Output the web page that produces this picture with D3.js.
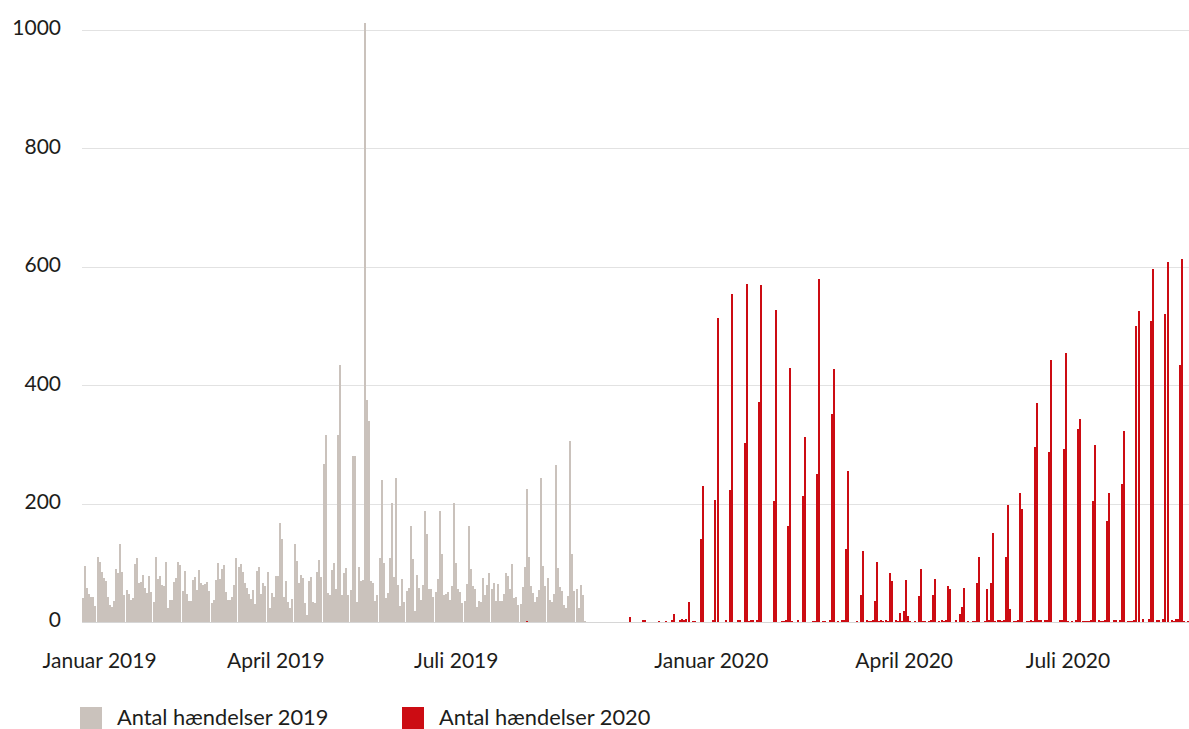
<!DOCTYPE html>
<html>
<head>
<meta charset="utf-8">
<script src="https://cdn.jsdelivr.net/npm/d3@7"></script>
<style>
  body { margin: 0; background: #fff; }
  text { font-family: Lato, "Open Sans", sans-serif; fill: #1d1d1b; }
</style>
</head>
<body>
<div id="chart"></div>
<script>
//Data: one bar per day (category index), both series share the same day axis
var dayCount = 534;
var days = d3.range(dayCount);

//Antal haendelser 2019, from day 0
var events2019 = [
  40,95,57,47,42,42,27,110,101,84, 74,69,42,29,25,35,90,83,132,84,
  46,54,47,37,40,98,108,66,68,79, 57,49,78,51,34,110,73,78,62,61,
  101,24,37,37,68,74,101,96,52,86, 47,35,35,71,76,54,88,66,62,64, 68,
  52,32,37,71,100,73,90,96,51,37,37,42,62,108, 93,98,84,66,57,47,39,54,30,86,93,47,66,
  61,84,24,49,42,78,78,167,140,42,69,34,24,39,132, 103,66,79,74,32,12,69,76,34,32,84,105,76,
  267,316,49,46,88,100,
  56,316,434,46,83,91,46, 54,280,280,34,93,69,71,1012,375,340,69,66,36,
  46,108,240,100,40,49,108,201,76,243,62,27,73,34, 52,57,162,106,19,79,57,37,62,188,149,56,56,
  42,51,73,188,115,46,47,51,37,61,201,100,56,
  51,32,36,64,162,90,61,56,25,36,34,74,46, 62,83,56,66,36,64,36,36,47,83,78,56,98,
  40,42,29,30,59,93,225,110,61,49,34,42,54, 243,95,61,74,37,34,47,265,91,59,52,29,24,44,
  306,115,52,56,24,62,46,2
];

//Antal haendelser 2020, from day 214
var start2020 = 214;
var events2020 = [
  2,0,0,0,0,0,0,0,0,0,
  0,0,0,0,0,0,0,0,0,0,
  0,0,0,0,0,0,0,0,0,0,
  0,0,0,0,0,0,0,0,0,0,
  0,0,0,0,0,0,0,0,0,0,
  8,0,0,0,0,0,3,3,0,0,
  0,0,0,0,2,0,0,2,0,0,
  3,14,0,0,3,5,3,5,34,0,
  2,2,0,0,140,230,0,0,0,0,
  3,206,514,0,0,0,3,0,223,554,
  0,0,3,3,0,302,571,2,3,3,
  0,3,372,569,0,0,0,0,0,204,
  527,0,0,2,2,3,162,429,2,0,
  0,3,0,213,312,0,0,0,2,2,
  250,580,0,2,2,0,3,351,427,0,
  2,0,3,3,123,255,0,0,0,2,
  0,46,120,0,3,2,2,3,36,101,
  2,3,2,3,2,83,69,0,3,2,
  15,2,19,71,10,2,0,2,0,44,
  90,2,2,0,2,3,46,73,0,2,
  3,2,3,61,56,0,0,3,0,14,
  25,57,0,2,0,2,2,66,110,0,
  0,2,56,3,66,150,2,3,3,2,
  3,110,198,22,0,2,2,3,218,191,
  0,2,2,3,2,296,370,3,3,0,
  3,3,287,443,0,0,0,3,3,292,
  454,2,0,2,0,3,326,343,2,2,
  2,2,3,204,299,0,3,2,2,3,
  171,218,0,3,3,0,3,233,323,0,
  2,2,2,3,500,525,0,5,0,0,
  5,508,596,0,3,3,0,5,520,608,
  0,3,2,5,5,434,613,2,0,2
];

//Month labels and the day they sit on
var monthLabels = ["Januar 2019", "April 2019", "Juli 2019", "Januar 2020", "April 2020", "Juli 2020"];
var monthDays = [8, 93, 180, 303, 396, 475];
var yTicks = [0, 200, 400, 600, 800, 1000];
var seriesNames = ["Antal hændelser 2019", "Antal hændelser 2020"];
var seriesColors = ["#cac2bc", "#cc0c13"];

//Set sizes
var width = 1189, height = 729;
var plot = { left: 82, right: 1189.3, top: 30, bottom: 622 };

var svg = d3.select("#chart").append("svg")
  .attr("width", width)
  .attr("height", height);

var x = d3.scaleBand()
  .domain(days)
  .range([plot.left, plot.right])
  .paddingInner(0.035)
  .paddingOuter(0);

var y = d3.scaleLinear()
  .domain([0, 1000])
  .range([plot.bottom, plot.top]);

//Gridlines
svg.append("g")
  .selectAll("line")
  .data(yTicks)
  .enter()
  .append("line")
  .attr("x1", plot.left)
  .attr("x2", width)
  .attr("y1", function(d){ return Math.round(y(d)) + 0.5; })
  .attr("y2", function(d){ return Math.round(y(d)) + 0.5; })
  .attr("stroke", function(d){ return d === 0 ? "#d6d6d6" : "#e2e2e2"; })
  .attr("stroke-width", 1.2);

//Y labels
svg.append("g")
  .selectAll("text")
  .data(yTicks)
  .enter()
  .append("text")
  .attr("x", 61)
  .attr("y", function(d){ return y(d) - 2; })
  .attr("dy", "0.35em")
  .attr("text-anchor", "end")
  .attr("font-size", 21)
  .text(function(d){ return d; });

//Bars
var bars2019 = events2019.map(function(v, i){ return { day: i, value: v }; });
var bars2020 = events2020.map(function(v, i){ return { day: start2020 + i, value: v }; })
  .filter(function(d){ return d.value > 0; });

svg.append("g")
  .selectAll("rect")
  .data(bars2019)
  .enter()
  .append("rect")
  .attr("x", function(d){ return x(d.day); })
  .attr("width", x.bandwidth())
  .attr("y", function(d){ return y(d.value); })
  .attr("height", function(d){ return y(0) - y(d.value); })
  .attr("fill", seriesColors[0])
  .attr("shape-rendering", "crispEdges");

svg.append("g")
  .selectAll("rect")
  .data(bars2020)
  .enter()
  .append("rect")
  .attr("x", function(d){ return x(d.day); })
  .attr("width", x.bandwidth())
  .attr("y", function(d){ return y(d.value); })
  .attr("height", function(d){ return y(0) - y(d.value); })
  .attr("fill", seriesColors[1])
  .attr("shape-rendering", "crispEdges");

//X axis labels
var xAxis = d3.axisBottom(x)
  .tickValues(monthDays)
  .tickSize(0)
  .tickFormat(function(d){ return monthLabels[monthDays.indexOf(d)]; });

var gx = svg.append("g")
  .attr("transform", "translate(0," + (plot.bottom + 28) + ")")
  .call(xAxis);
gx.select(".domain").remove();
gx.selectAll("text")
  .attr("font-size", 21)
  .attr("font-family", "Lato, sans-serif")
  .attr("fill", "#1d1d1b");

//Legend
var legend = svg.append("g")
  .selectAll("g")
  .data(seriesNames)
  .enter()
  .append("g")
  .attr("transform", function(d, i){ return "translate(" + (80 + i * 322) + ",707)"; });
legend.append("rect")
  .attr("width", 22)
  .attr("height", 22)
  .attr("fill", function(d, i){ return seriesColors[i]; });
legend.append("text")
  .attr("x", 37)
  .attr("y", 11)
  .attr("dy", "0.33em")
  .attr("font-size", 21.8)
  .text(function(d){ return d; });
</script>
</body>
</html>
